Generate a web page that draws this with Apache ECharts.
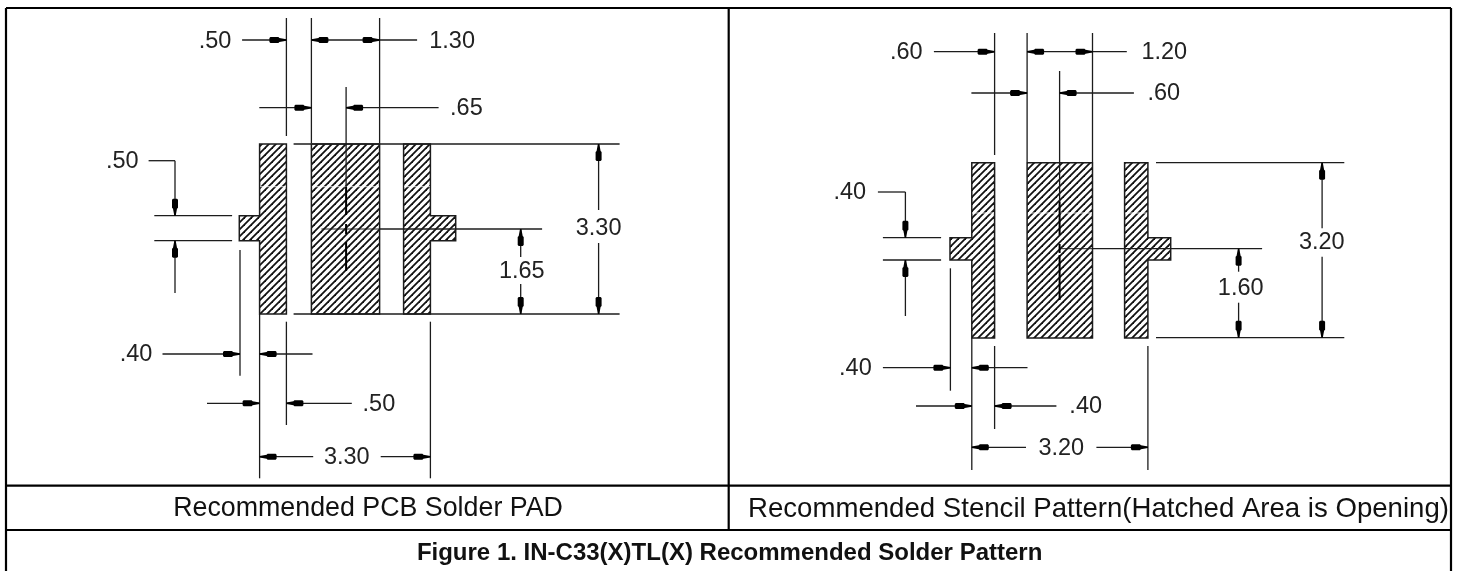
<!DOCTYPE html>
<html><head><meta charset="utf-8">
<style>html,body{margin:0;padding:0;background:#fff}#c{width:1458px;height:571px}</style>
<script src="https://cdn.jsdelivr.net/npm/echarts@6/dist/echarts.min.js"></script>
</head><body><div id="c"></div>
<script>
// drawing-space rows: x1, y1, x2, y2
const frameLines = [
  [6,8,1451,8],[6,8,6,571],[1451,8,1451,571],[728.7,8,728.7,530],
  [6,485.7,1451,485.7],[6,530,1451,530]
];
const leaderLines = [
  // left drawing – extension lines
  [286.4,18,286.4,136],[311.4,18,311.4,143],[379.6,18,379.6,143],[346.1,87,346.1,188],
  [293.6,144,619.6,144],[293.6,314,619.6,314],[379.6,229,542.1,229],
  [154.3,215.7,232.1,215.7],[154.3,240.7,232.1,240.7],
  [240,250,240,375.7],[259.6,314,259.6,478.3],[286.4,321.7,286.4,425],[430.4,321.7,430.4,478.3],
  // left drawing – dimension lines
  [242.1,40,286.4,40],[311.4,40,417.1,40],[259.3,107.7,311.4,107.7],[346.1,107.7,438.6,107.7],
  [598.6,144,598.6,210],[598.6,243,598.6,314],[520.7,229,520.7,257],[520.7,284,520.7,314],
  [148.6,160.7,175,160.7],[175,160.7,175,215.7],[175,240.7,175,293],
  [162.5,354,240,354],[259.6,354,312.5,354],[207,403.3,259.6,403.3],[286.4,403.3,351.8,403.3],
  [259.6,456.7,313.2,456.7],[380.7,456.7,430.4,456.7],
  // right drawing – extension lines
  [994.6,33,994.6,155],[1027.1,33,1027.1,162],[1092.5,33,1092.5,162],[1059.6,71,1059.6,202],
  [1156,162.7,1344.3,162.7],[1156,337.7,1344.3,337.7],[1092.5,248.7,1262.1,248.7],
  [882.9,237.7,941.1,237.7],[882.9,260,941.1,260],
  [950.4,268.3,950.4,390.7],[971.8,338,971.8,470],[994.6,346,994.6,429],[1147.9,346,1147.9,470],
  // right drawing – dimension lines
  [933.9,51.7,994.6,51.7],[1027.1,51.7,1126.8,51.7],[971.4,93,1027.1,93],[1059.6,93,1133.9,93],
  [1322.1,162.7,1322.1,228.3],[1322.1,256.7,1322.1,337.7],[1238.6,248.7,1238.6,271.7],[1238.6,302.7,1238.6,337.7],
  [877.9,192,905.4,192],[905.4,192,905.4,237.7],[905.4,260,905.4,316],
  [882.9,367.7,950.4,367.7],[971.8,367.7,1027.5,367.7],[916,406,971.8,406],[994.6,406,1056.4,406],
  [971.8,447.3,1026,447.3],[1096.4,447.3,1147.9,447.3]
];
const faintCentreLines = [[321.4,229,379.6,229],[1060.7,248.7,1092.5,248.7]];
const centreStrokes = [
  [346.1,187,346.1,215],[346.1,224,346.1,234],[346.1,242,346.1,271],
  [1059.6,201.7,1059.6,235],[1059.6,244,1059.6,253],[1059.6,255,1059.6,300]
];
const hatchGaps = [
  [260,186.7,286,186.7],[312,186.7,379,186.7],[404,186.7,430,186.7],
  [972,213,994,213],[1028,213,1092,213],[1125,213,1147,213]
];
const padOutlines = [
  [[259.6,144],[286.4,144],[286.4,314],[259.6,314],[259.6,240.7],[239.3,240.7],[239.3,215.7],[259.6,215.7]],
  [[311.4,144],[379.6,144],[379.6,314],[311.4,314]],
  [[403.6,144],[430.4,144],[430.4,215.7],[455.7,215.7],[455.7,240.7],[430.4,240.7],[430.4,314],[403.6,314]],
  [[971.8,162.7],[994.6,162.7],[994.6,338],[971.8,338],[971.8,260],[950,260],[950,237.7],[971.8,237.7]],
  [[1027.1,162.7],[1092.5,162.7],[1092.5,338],[1027.1,338]],
  [[1124.6,162.7],[1147.9,162.7],[1147.9,237.7],[1170.7,237.7],[1170.7,260],[1147.9,260],[1147.9,338],[1124.6,338]]
];
const arrowsRight = [[286.4,40],[379.6,40],[311.4,107.7],[240,354],[259.6,403.3],[430.4,456.7],
  [994.6,51.7],[1092.5,51.7],[1027.1,93],[950.4,367.7],[971.8,406],[1147.9,447.3]];
const arrowsLeft = [[311.4,40],[346.1,107.7],[259.6,354],[286.4,403.3],[259.6,456.7],
  [1027.1,51.7],[1059.6,93],[971.8,367.7],[994.6,406],[971.8,447.3]];
const arrowsUp = [[598.6,144],[520.7,229],[175,240.7],[1322.1,162.7],[1238.6,248.7],[905.4,260]];
const arrowsDown = [[598.6,314],[520.7,314],[175,215.7],[1322.1,337.7],[1238.6,337.7],[905.4,237.7]];

const dimTexts = ['.50','1.30','.65','.50','3.30','1.65','.40','.50','3.30',
                  '.60','1.20','.60','.40','3.20','1.60','.40','.40','3.20'];
const dimXs = [215,452.1,466.4,122.3,598.6,521.8,136,378.9,346.8,
               906.3,1164.3,1163.8,849.8,1321.8,1240.7,855.4,1085.7,1061.3];
const dimYs = [42,42,109,162,229,271.7,354.7,405,457.7,
               52.3,52.3,94,192.7,243,288.3,368.3,407,448.3];
const captionLeft = 'Recommended PCB Solder PAD';
const captionRight = 'Recommended Stencil Pattern(Hatched Area is Opening)';
const captionLeftX = 368, captionRightX = 1098.5, captionY = 509;
const titleText = 'Figure 1. IN-C33(X)TL(X) Recommended Solder Pattern';
const titleX = 729.6, titleY = 553;

const INK = '#1c1c1c';
const hatch = (function(){
  const s = 7, cv = document.createElement('canvas');
  cv.width = cv.height = s;
  const g = cv.getContext('2d');
  g.fillStyle = '#fff'; g.fillRect(0,0,s,s);
  g.strokeStyle = '#111'; g.lineWidth = 1.8;
  [[-s,s,s,-s],[0,s,s,0],[0,2*s,2*s,0]].forEach(function(l){
    g.beginPath(); g.moveTo(l[0],l[1]); g.lineTo(l[2],l[3]); g.stroke();
  });
  return cv;
})();

function segmentSeries(rows, color, width, z){
  return {
    type:'custom', coordinateSystem:'cartesian2d', silent:true, z:z, clip:false,
    encode:{x:[0,2],y:[1,3]}, data:rows,
    renderItem:function(p,api){
      const a = api.coord([api.value(0),api.value(1)]), b = api.coord([api.value(2),api.value(3)]);
      return {type:'line',shape:{x1:a[0],y1:a[1],x2:b[0],y2:b[1]},style:{stroke:color,lineWidth:width,fill:null}};
    }
  };
}
// arrow profile: distance back from the tip, half width
const arrowProfile = [[0,0.7],[7,2],[8,3],[16,3],[17,2]];
function arrowSeries(rows, dx, dy){
  return {
    type:'custom', coordinateSystem:'cartesian2d', silent:true, z:6, clip:false,
    encode:{x:0,y:1}, data:rows,
    renderItem:function(p,api){
      const t = api.coord([api.value(0),api.value(1)]);
      const upper = arrowProfile.map(function(q){return [t[0]-dx*q[0]-dy*q[1], t[1]-dy*q[0]-dx*q[1]];});
      const lower = arrowProfile.slice().reverse().map(function(q){return [t[0]-dx*q[0]+dy*q[1], t[1]-dy*q[0]+dx*q[1]];});
      return {type:'polygon',shape:{points:upper.concat(lower)},style:{fill:'#000'}};
    }
  };
}
function textSeries(texts,xs,ys,font,color){
  return {
    type:'custom', coordinateSystem:'cartesian2d', silent:true, z:8, clip:false,
    encode:{x:0,y:1}, data:xs.map(function(x,i){return [x,ys[i]];}),
    renderItem:function(p,api){
      const c = api.coord([api.value(0),api.value(1)]);
      return {type:'text',style:{x:c[0],y:c[1],text:texts[p.dataIndex],font:font,fill:color,align:'center',verticalAlign:'middle'}};
    }
  };
}
const padSeries = {
  type:'custom', coordinateSystem:'cartesian2d', silent:true, z:2, clip:false,
  encode:{x:0,y:1}, data:padOutlines.map(function(o){return o[0];}),
  renderItem:function(p,api){
    const pts = padOutlines[p.dataIndex].map(function(q){return api.coord(q);});
    return {type:'polygon',shape:{points:pts},style:{fill:{image:hatch,repeat:'repeat'},stroke:INK,lineWidth:1.5}};
  }
};

const chart = echarts.init(document.getElementById('c'),null,{renderer:'canvas'});
chart.setOption({
  animation:false, backgroundColor:'#fff',
  grid:{left:0,right:0,top:0,bottom:0,containLabel:false},
  xAxis:{type:'value',min:0,max:1458,show:false},
  yAxis:{type:'value',min:0,max:571,inverse:true,show:false},
  tooltip:{show:false},
  series:[
    padSeries,
    segmentSeries(hatchGaps,'rgba(255,255,255,0.8)',1,3),
    segmentSeries(leaderLines,INK,1.3,4),
    segmentSeries(faintCentreLines,INK,1,4),
    segmentSeries(centreStrokes,'#000',2,5),
    arrowSeries(arrowsRight,1,0),
    arrowSeries(arrowsLeft,-1,0),
    arrowSeries(arrowsUp,0,-1),
    arrowSeries(arrowsDown,0,1),
    segmentSeries(frameLines,'#000',2.2,7),
    textSeries(dimTexts,dimXs,dimYs,'23.5px "Liberation Sans"','#222'),
    textSeries([captionLeft],[captionLeftX],[captionY],'26.8px "Liberation Sans"','#111'),
    textSeries([captionRight],[captionRightX],[captionY],'27.6px "Liberation Sans"','#111'),
    textSeries([titleText],[titleX],[titleY],'bold 24px "Liberation Sans"','#111')
  ]
});
</script></body></html>
